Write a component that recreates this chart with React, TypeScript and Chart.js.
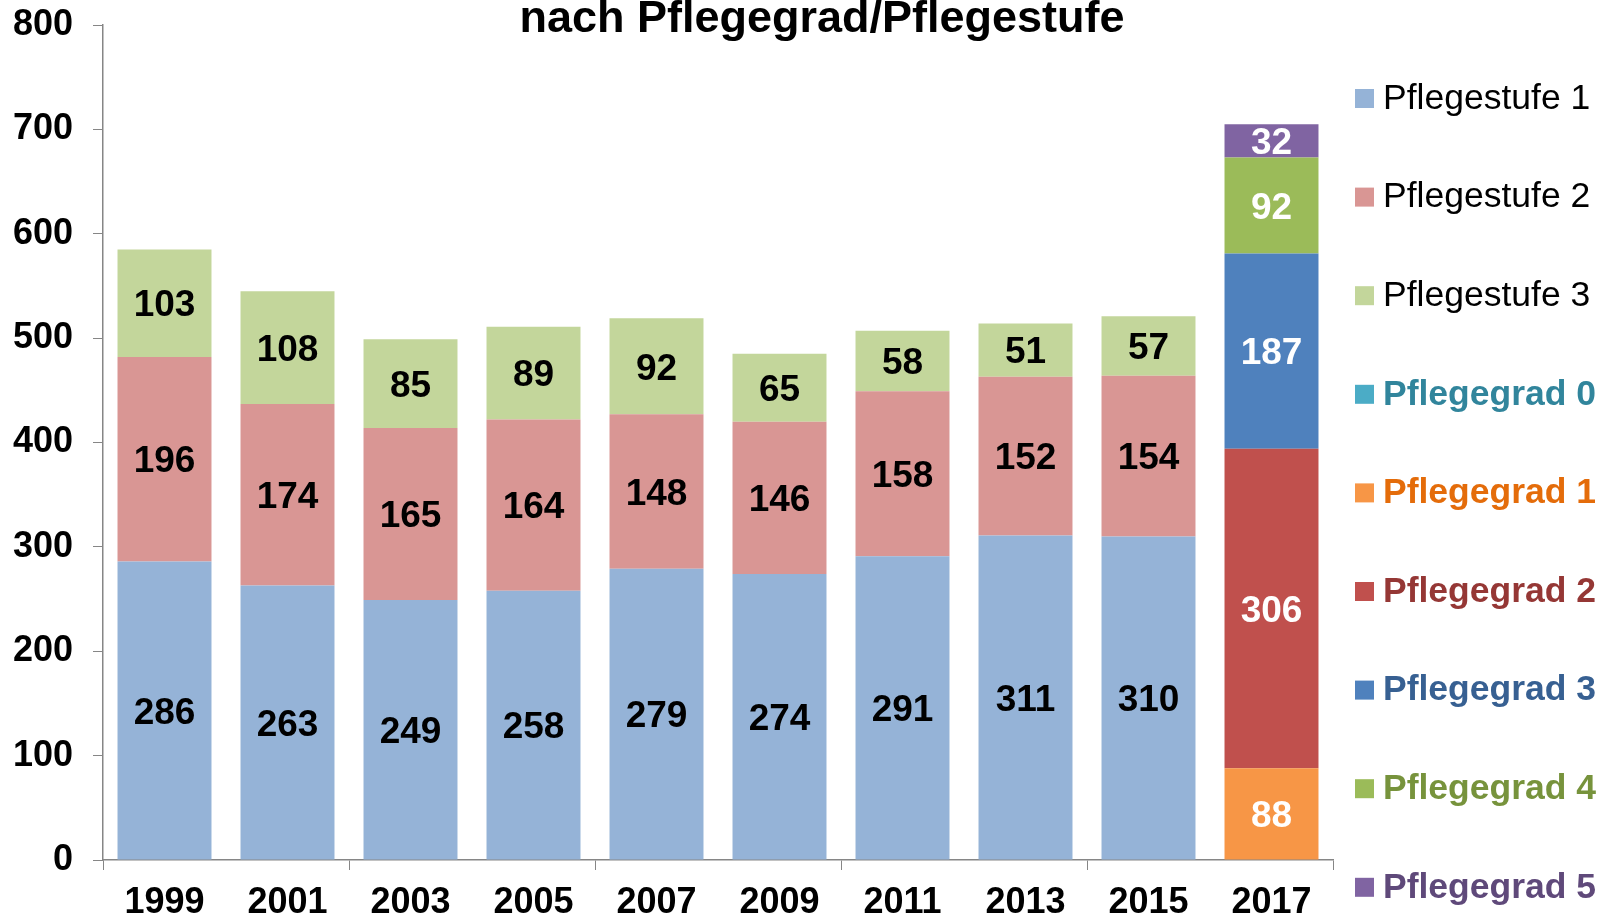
import React, { useEffect, useRef } from "react";
import { Chart, registerables } from "chart.js";

Chart.register(...registerables);

const years = ["1999", "2001", "2003", "2005", "2007", "2009", "2011", "2013", "2015", "2017"];
const pflegestufe1 = [286, 263, 249, 258, 279, 274, 291, 311, 310, null];
const pflegestufe2 = [196, 174, 165, 164, 148, 146, 158, 152, 154, null];
const pflegestufe3 = [103, 108, 85, 89, 92, 65, 58, 51, 57, null];
const pflegegrad0 = [null, null, null, null, null, null, null, null, null, null];
const pflegegrad1 = [null, null, null, null, null, null, null, null, null, 88];
const pflegegrad2 = [null, null, null, null, null, null, null, null, null, 306];
const pflegegrad3 = [null, null, null, null, null, null, null, null, null, 187];
const pflegegrad4 = [null, null, null, null, null, null, null, null, null, 92];
const pflegegrad5 = [null, null, null, null, null, null, null, null, null, 32];

const seriesNames = [
  "Pflegestufe 1", "Pflegestufe 2", "Pflegestufe 3",
  "Pflegegrad 0", "Pflegegrad 1", "Pflegegrad 2", "Pflegegrad 3", "Pflegegrad 4", "Pflegegrad 5",
];
const seriesData = [pflegestufe1, pflegestufe2, pflegestufe3, pflegegrad0, pflegegrad1, pflegegrad2, pflegegrad3, pflegegrad4, pflegegrad5];
const fillColors = ["#95B3D7", "#D99694", "#C3D69B", "#4BACC6", "#F79646", "#C0504D", "#4F81BD", "#9BBB59", "#8064A2"];
const legendTextColors = ["#000000", "#000000", "#000000", "#31859C", "#E46C0A", "#953735", "#376092", "#77933C", "#5F497A"];
const labelColors = ["#000000", "#000000", "#000000", "#FFFFFF", "#FFFFFF", "#FFFFFF", "#FFFFFF", "#FFFFFF", "#FFFFFF"];
const titleText = "nach Pflegegrad/Pflegestufe";

const FONT = "'Liberation Sans', Arial, sans-serif";
const AXIS = "#868686";

const labelsPlugin = {
  id: "valueLabels",
  afterDatasetsDraw(chart: any) {
    const ctx = chart.ctx;
    ctx.save();
    ctx.font = `bold 37px ${FONT}`;
    ctx.textAlign = "center";
    ctx.textBaseline = "middle";
    chart.data.datasets.forEach((ds: any, di: number) => {
      const meta = chart.getDatasetMeta(di);
      meta.data.forEach((el: any, i: number) => {
        const v = ds.data[i];
        if (v === null || v === undefined) return;
        const p = el.getProps(["x", "y", "base"], true);
        ctx.fillStyle = labelColors[di];
        ctx.fillText(String(v), p.x, (p.y + p.base) / 2 + 3);
      });
    });
    ctx.restore();
  },
};

const legendTitlePlugin = {
  id: "legendTitle",
  afterDraw(chart: any) {
    const ctx = chart.ctx;
    ctx.save();
    ctx.font = `bold 45px ${FONT}`;
    ctx.fillStyle = "#000";
    ctx.textAlign = "center";
    ctx.textBaseline = "alphabetic";
    ctx.fillText(titleText, 822, 32);
    const startY = 98;
    const step = 98.6;
    seriesNames.forEach((name, i) => {
      const cy = startY + i * step;
      ctx.fillStyle = fillColors[i];
      ctx.fillRect(1355, cy - 9, 19, 19);
      ctx.font = (i < 3 ? "" : "bold ") + `35.5px ${FONT}`;
      ctx.fillStyle = legendTextColors[i];
      ctx.textAlign = "left";
      ctx.textBaseline = "middle";
      ctx.fillText(name, 1383, cy + 1);
    });
    ctx.restore();
  },
};

export default function App() {
  const ref = useRef<HTMLCanvasElement>(null);
  useEffect(() => {
    if (!ref.current) return;
    const chart = new Chart(ref.current, {
      type: "bar",
      data: {
        labels: years,
        datasets: seriesNames.map((n, i) => ({
          label: n,
          data: seriesData[i] as any,
          backgroundColor: fillColors[i],
          borderWidth: 0,
          barPercentage: 1,
          categoryPercentage: 0.764,
        })),
      },
      options: {
        responsive: false,
        devicePixelRatio: 1,
        animation: false,
        layout: { autoPadding: false, padding: { top: 25, right: 272, bottom: 0, left: 0 } },
        plugins: {
          legend: { display: false },
          title: { display: false },
          tooltip: { enabled: false },
        },
        scales: {
          x: {
            stacked: true,
            grid: {
              display: true,
              offset: true,
              drawOnChartArea: false,
              drawTicks: true,
              tickLength: 10,
              tickColor: (c: any) => (c.index === undefined || c.index % 2 === 0 ? AXIS : "rgba(0,0,0,0)"),
              color: AXIS,
            },
            border: { display: true, color: AXIS, width: 1.5 },
            ticks: {
              color: "#000",
              font: { family: FONT, size: 36, weight: "bold" },
              padding: 11,
              maxRotation: 0,
              autoSkip: false,
            },
            afterFit: (s: any) => { s.height = 63; s.paddingLeft = 0; s.paddingRight = 0; },
          },
          y: {
            stacked: true,
            min: 0,
            max: 800,
            grid: {
              display: true,
              drawOnChartArea: false,
              drawTicks: true,
              tickLength: 10,
              color: AXIS,
              tickColor: AXIS,
            },
            border: { display: true, color: AXIS, width: 1.5 },
            ticks: {
              stepSize: 100,
              color: "#000",
              font: { family: FONT, size: 36, weight: "bold" },
              padding: 20,
            },
            afterFit: (s: any) => { s.width = 103; s.paddingTop = 0; s.paddingBottom = 0; },
          },
        },
      },
      plugins: [labelsPlugin, legendTitlePlugin],
    });
    return () => chart.destroy();
  }, []);
  return (
    <div style={{ position: "absolute", left: 0, top: 0, width: 1605, height: 923, background: "#fff" }}>
      <canvas ref={ref} width={1605} height={923} style={{ display: "block" }} />
    </div>
  );
}
